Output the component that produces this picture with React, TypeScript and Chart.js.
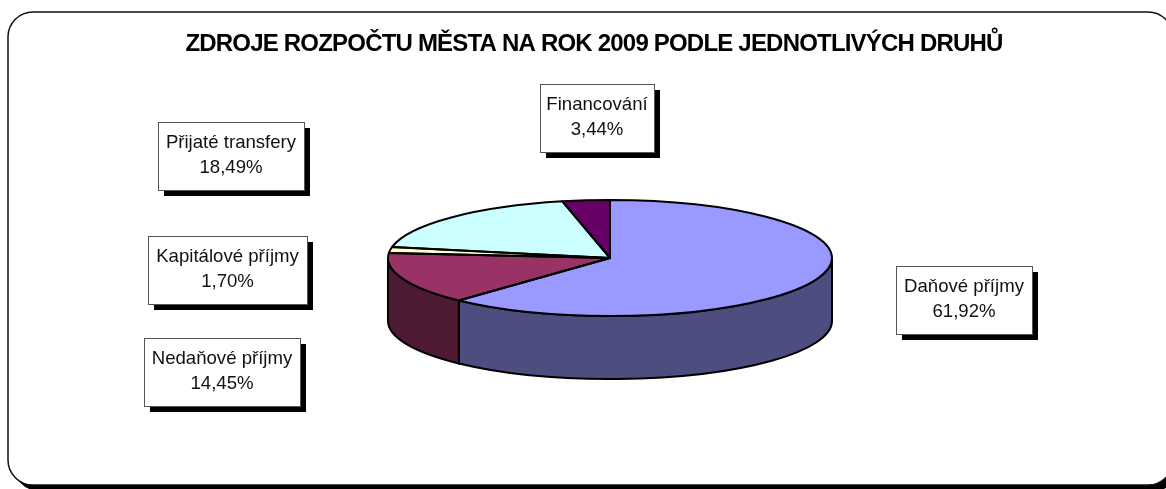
import React, { useEffect, useRef } from "react";
import { Chart, registerables } from "chart.js";

Chart.register(...registerables);

const categories = ["Daňové příjmy", "Nedaňové příjmy", "Kapitálové příjmy", "Přijaté transfery", "Financování"];
const shares = [61.92, 14.45, 1.7, 18.49, 3.44];
const shareLabels = ["61,92%", "14,45%", "1,70%", "18,49%", "3,44%"];
const topColors = ["#9999FF", "#993366", "#FFFFCC", "#CCFFFF", "#660066"];
const wallColors = ["#4D4D80", "#4D1933", "#808066", "#668080", "#330033"];
const chartTitle = "ZDROJE ROZPOČTU MĚSTA NA ROK 2009 PODLE JEDNOTLIVÝCH DRUHŮ";
// label boxes: left, top, right, bottom
const labelBoxes = [
  [896, 266, 1032, 334],
  [144, 338, 300, 406],
  [148, 236, 307, 304],
  [158, 122, 304, 190],
  [540, 84, 654, 152],
];

const PIE = { cx: 610, cy: 258, rx: 222, ry: 58, depth: 63 };

function piePath(ctx: CanvasRenderingContext2D, a: number, b: number) {
  ctx.beginPath();
  ctx.moveTo(PIE.cx, PIE.cy);
  ctx.ellipse(PIE.cx, PIE.cy, PIE.rx, PIE.ry, 0, a, b);
  ctx.closePath();
}

const pie3d = {
  id: "pie3d",
  beforeDraw(chart: any) {
    const { ctx, width, height } = chart;
    ctx.save();
    ctx.fillStyle = "#ffffff";
    ctx.fillRect(0, 0, width, height);
    // rounded frame with its shadow
    const x = 8, y = 12, w = 1165, h = 473, r = 25;
    ctx.fillStyle = "#000000";
    ctx.beginPath();
    ctx.roundRect(x + 6, y + 6, w, h, r);
    ctx.fill();
    ctx.beginPath();
    ctx.roundRect(x, y, w, h, r);
    ctx.fillStyle = "#ffffff";
    ctx.fill();
    ctx.lineWidth = 1.5;
    ctx.strokeStyle = "#111111";
    ctx.stroke();
    ctx.restore();
    // the title is set tight in the reference
    ctx.letterSpacing = "-0.8px";
  },
  beforeDatasetDraw(chart: any) {
    const { ctx } = chart;
    ctx.letterSpacing = "0px";
    const arcs = chart.getDatasetMeta(0).data;
    ctx.save();
    // front wall of the disc
    arcs.forEach((arc: any, i: number) => {
      const a = Math.max(arc.startAngle, 0);
      const b = Math.min(arc.endAngle, Math.PI);
      if (b <= a) return;
      ctx.beginPath();
      ctx.ellipse(PIE.cx, PIE.cy, PIE.rx, PIE.ry, 0, a, b);
      ctx.ellipse(PIE.cx, PIE.cy + PIE.depth, PIE.rx, PIE.ry, 0, b, a, true);
      ctx.closePath();
      ctx.fillStyle = wallColors[i];
      ctx.fill();
      ctx.lineWidth = 2;
      ctx.strokeStyle = "#000000";
      ctx.stroke();
    });
    ctx.restore();
    // squash the library's own circular arcs to the ellipse of the disc
    const first = arcs[0];
    ctx.save();
    ctx.translate(PIE.cx, PIE.cy);
    ctx.scale(PIE.rx / first.outerRadius, PIE.ry / first.outerRadius);
    ctx.translate(-first.x, -first.y);
  },
  afterDatasetDraw(chart: any) {
    const { ctx } = chart;
    ctx.restore();
    const arcs = chart.getDatasetMeta(0).data;
    ctx.save();
    ctx.lineWidth = 2;
    ctx.lineJoin = "round";
    ctx.strokeStyle = "#000000";
    arcs.forEach((arc: any) => {
      piePath(ctx, arc.startAngle, arc.endAngle);
      ctx.stroke();
    });
    ctx.restore();
  },
  afterDraw(chart: any) {
    const { ctx } = chart;
    ctx.save();
    categories.forEach((name, i) => {
      const [l, t, r, b] = labelBoxes[i];
      ctx.fillStyle = "#000000";
      ctx.fillRect(l + 6, t + 6, r - l, b - t);
      ctx.fillStyle = "#ffffff";
      ctx.fillRect(l, t, r - l, b - t);
      ctx.strokeStyle = "#555555";
      ctx.lineWidth = 1;
      ctx.strokeRect(l + 0.5, t + 0.5, r - l, b - t);
      ctx.fillStyle = "#111111";
      ctx.font = "18.6px 'Liberation Sans'";
      ctx.textAlign = "center";
      ctx.textBaseline = "alphabetic";
      const c = (l + r) / 2;
      ctx.fillText(name, c, t + 26);
      ctx.fillText(shareLabels[i], c, t + 51);
    });
    ctx.restore();
  },
};

export default function App() {
  const ref = useRef<HTMLCanvasElement>(null);
  useEffect(() => {
    const chart = new Chart(ref.current!, {
      type: "pie",
      data: {
        labels: categories,
        datasets: [
          {
            data: shares,
            backgroundColor: topColors,
            borderWidth: 0,
            radius: 150,
          },
        ],
      },
      options: {
        responsive: false,
        animation: false,
        layout: { padding: { left: 22, top: 0 } },
        plugins: {
          legend: { display: false },
          tooltip: { enabled: false },
          title: {
            display: true,
            text: chartTitle,
            color: "#000000",
            font: { family: "'Liberation Sans'", size: 24, weight: "bold" },
            padding: { top: 30, bottom: 10 },
          },
        },
      },
      plugins: [pie3d],
    } as any);
    return () => chart.destroy();
  }, []);
  return (
    <div style={{ position: "fixed", left: 0, top: 0, width: 1166, height: 489 }}>
      <canvas ref={ref} width={1166} height={489} style={{ display: "block" }} />
    </div>
  );
}
